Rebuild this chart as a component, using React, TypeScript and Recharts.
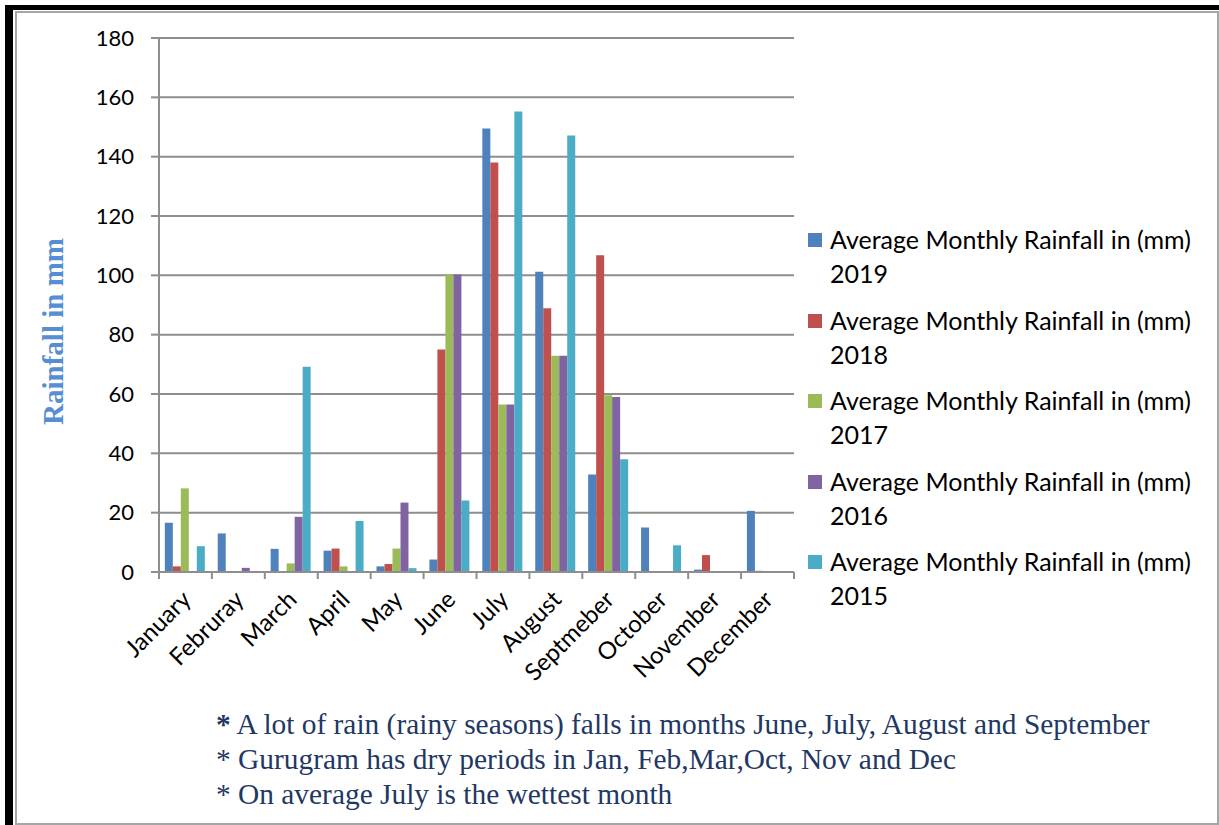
import React from "react";
import { BarChart, Bar, XAxis, YAxis, CartesianGrid, Legend, Label } from "recharts";

const months = ["January", "Februray", "March", "April", "May", "June", "July", "August", "Septmeber", "October", "November", "December"];
const rain2019 = [16.6, 13.0, 7.8, 7.2, 1.9, 4.2, 149.5, 101.2, 32.9, 15.0, 0.8, 20.6];
const rain2018 = [1.9, 0, 0, 7.9, 2.7, 75.0, 138.0, 88.9, 106.8, 0, 5.7, 0.4];
const rain2017 = [28.2, 0, 2.9, 1.9, 7.9, 100.4, 56.5, 72.9, 59.6, 0, 0, 0];
const rain2016 = [0, 1.4, 18.6, 0, 23.4, 100.3, 56.5, 72.9, 59.0, 0, 0, 0];
const rain2015 = [8.7, 0, 69.2, 17.2, 1.3, 24.1, 155.2, 147.1, 38.0, 9.0, 0, 0];
const yTicks = [0, 20, 40, 60, 80, 100, 120, 140, 160, 180];

const seriesKeys = ["y2019", "y2018", "y2017", "y2016", "y2015"];
const seriesYears = ["2019", "2018", "2017", "2016", "2015"];
const seriesPrefix = "Average Monthly Rainfall in (mm)";
const seriesColors = ["#4F81BD", "#C0504D", "#9BBB59", "#8064A2", "#4BACC6"];
const seriesValues = [rain2019, rain2018, rain2017, rain2016, rain2015];

const yLabel = "Rainfall in mm";
const notes = [
  "A lot of rain (rainy seasons) falls in months June, July, August and September",
  "Gurugram has dry periods in Jan, Feb,Mar,Oct, Nov and Dec",
  "On average July is the wettest month",
];

const data = months.map((m, i) => {
  const row: Record<string, string | number> = { month: m };
  seriesKeys.forEach((k, s) => {
    row[k] = seriesValues[s][i];
  });
  return row;
});

const SANS = "Lato, 'Open Sans', sans-serif";
const SERIF = "'Liberation Serif', 'Times New Roman', serif";
const GRID = "#8e8e8e";

const XTick = (props: any) => {
  const { x, y, payload, index } = props;
  const half = payload && payload.offset ? payload.offset : 26.46;
  return (
    <g>
      <line x1={x - half} x2={x - half} y1={y} y2={y + 7} stroke={GRID} strokeWidth={2} />
      {index === months.length - 1 && (
        <line x1={x + half} x2={x + half} y1={y} y2={y + 7} stroke={GRID} strokeWidth={2} />
      )}
      <text
        transform={`translate(${x + 7},${y + 29}) rotate(-45)`}
        textAnchor="end"
        fontFamily={SANS}
        fontSize={24}
        fill="#000"
      >
        {payload.value}
      </text>
    </g>
  );
};

const LegendContent = () => {
  return (
    <div style={{ width: 400 }}>
      {seriesKeys.map((k, i) => (
        <div key={k} style={{ position: "relative", height: 80.5 }}>
          <div
            style={{
              position: "absolute",
              left: 14,
              top: 11,
              width: 14,
              height: 14,
              background: seriesColors[i],
            }}
          />
          <div
            style={{
              position: "absolute",
              left: 36,
              top: 0,
              fontFamily: SANS,
              fontSize: 25,
              lineHeight: "34px",
              color: "#000",
              whiteSpace: "nowrap",
            }}
          >
            <div>{seriesPrefix}</div>
            <div>{seriesYears[i]}</div>
          </div>
        </div>
      ))}
    </div>
  );
};

export default function App() {
  return (
    <div style={{ position: "absolute", left: 0, top: 0, width: 1219, height: 825, background: "#fff", overflow: "hidden" }}>
      <div style={{ position: "absolute", left: 5, top: 5, width: 1214, height: 5, background: "#000" }} />
      <div style={{ position: "absolute", left: 5, top: 5, width: 8, height: 820, background: "#000" }} />
      <div
        style={{
          position: "absolute",
          left: 15,
          top: 11,
          width: 1204,
          height: 814,
          boxSizing: "border-box",
          border: "2px solid #a6a6a6",
        }}
      />
      <div style={{ position: "absolute", left: 0, top: 0 }}>
        <BarChart
          width={1219}
          height={825}
          data={data}
          margin={{ top: 38, right: 25, bottom: 0, left: 0 }}
          barCategoryGap="11%"
          barGap={0}
        >
          <CartesianGrid vertical={false} stroke={GRID} strokeWidth={2} />
          <XAxis
            dataKey="month"
            interval={0}
            height={253}
            tickSize={0}
            tickMargin={0}
            tickLine={false}
            axisLine={{ stroke: GRID, strokeWidth: 2 }}
            tick={<XTick />}
          />
          <YAxis
            domain={[0, 180]}
            ticks={yTicks}
            width={159}
            tickSize={8}
            tickMargin={17}
            tickLine={{ stroke: GRID, strokeWidth: 2 }}
            axisLine={{ stroke: GRID, strokeWidth: 2 }}
            tick={{ fontFamily: SANS, fontSize: 22, fill: "#000" }}
            interval={0}
          >
            <Label
              content={() => (
                <text
                  x={63}
                  y={331.5}
                  transform="rotate(-90 63 331.5)"
                  textAnchor="middle"
                  fontFamily={SERIF}
                  fontWeight="bold"
                  fontSize={29}
                  fill="#558ED5"
                >
                  {yLabel}
                </text>
              )}
            />
          </YAxis>
          <Legend
            layout="vertical"
            align="right"
            verticalAlign="middle"
            width={400}
            wrapperStyle={{ top: 222, right: 25, width: 400 }}
            content={<LegendContent />}
          />
          {seriesKeys.map((k, s) => (
            <Bar
              key={k}
              dataKey={k}
              name={`${seriesPrefix} ${seriesYears[s]}`}
              fill={seriesColors[s]}
              isAnimationActive={false}
            />
          ))}
        </BarChart>
      </div>
      <svg style={{ position: "absolute", left: 0, top: 0 }} width={1219} height={825}>
        {notes.map((n, i) => (
          <text key={i} x={216} y={734 + i * 35} fontFamily={SERIF} fontSize={29.4} fill="#1F3864">
            <tspan fontWeight={i === 0 ? "bold" : "normal"}>*</tspan>
            {" " + n}
          </text>
        ))}
      </svg>
    </div>
  );
}
